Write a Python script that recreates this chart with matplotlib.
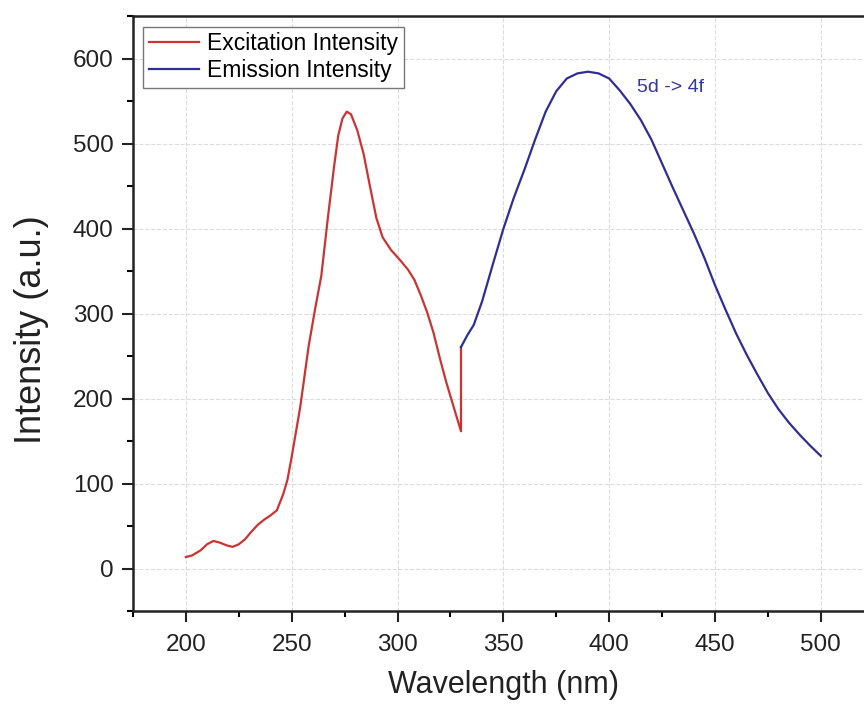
import matplotlib
matplotlib.use("Agg")
import matplotlib.pyplot as plt
from matplotlib.ticker import MultipleLocator

plt.rcParams['font.family'] = ['Liberation Sans', 'DejaVu Sans']

# Excitation spectrum (nm, a.u.)
exc_wl = [200, 203, 207, 210, 213, 216, 219, 222, 225, 228, 231, 234, 237, 240,
          243, 246, 248, 250, 254, 258, 261, 264, 267, 270, 272, 274, 276, 278,
          281, 284, 287, 290, 293, 297, 301, 305, 308, 311, 314, 317, 320, 323,
          326, 330, 330]
exc_int = [14, 16, 22, 29, 33, 31, 28, 26, 29, 35, 44, 52, 58, 63,
           69, 88, 105, 132, 190, 262, 305, 345, 411, 473, 510, 530, 538, 535,
           516, 488, 450, 413, 390, 375, 364, 352, 340, 322, 302, 278, 248, 220,
           195, 162, 261]

# Emission spectrum (nm, a.u.)
em_wl = [330, 333, 336, 340, 345, 350, 355, 360, 365, 370, 375, 380, 385, 390,
         395, 400, 405, 410, 415, 420, 425, 430, 435, 440, 445, 450, 455, 460,
         465, 470, 475, 480, 485, 490, 495, 500]
em_int = [261, 275, 287, 315, 358, 400, 437, 470, 505, 538, 562, 577, 583, 585,
          583, 577, 563, 547, 528, 505, 477, 449, 422, 395, 366, 334, 305, 277,
          252, 229, 207, 188, 172, 158, 145, 133]

x_ticks = [200, 250, 300, 350, 400, 450, 500]
y_ticks = [0, 100, 200, 300, 400, 500, 600]

fig = plt.figure(figsize=(8.64, 7.06), dpi=100)
ax = fig.add_axes([0.1539, 0.1339, 0.8573, 0.8428])

ax.plot(exc_wl, exc_int, color='#cc3333', lw=1.6, label='Excitation Intensity')
ax.plot(em_wl, em_int, color='#2e2e96', lw=1.6, label='Emission Intensity')

ax.text(429, 567, '5d -> 4f', color='#3535a5', fontsize=14,
        ha='center', va='center')

ax.set_xlim(175, 525)
ax.set_ylim(-50, 650)
ax.set_xticks(x_ticks)
ax.set_yticks(y_ticks)
ax.xaxis.set_minor_locator(MultipleLocator(25))
ax.yaxis.set_minor_locator(MultipleLocator(50))
ax.tick_params(axis='both', which='major', direction='out', length=8, width=1.5,
               labelsize=17.5, colors='#222222', pad=6)
ax.tick_params(axis='x', which='major', pad=8)
ax.tick_params(axis='both', which='minor', direction='out', length=4, width=1.5)
for s in ax.spines.values():
    s.set_linewidth(1.8)
    s.set_color('#222222')

ax.grid(True, which='major', linestyle='--', color='#dcdcdc', linewidth=0.8)
ax.set_axisbelow(True)

ax.set_xlabel('Wavelength (nm)', fontsize=22, color='#222222', labelpad=10)
ax.set_ylabel('Intensity (a.u.)', fontsize=26, color='#222222')
ax.yaxis.set_label_coords(-0.114, 0.473)

leg = ax.legend(loc='upper left', fontsize=16.5, frameon=True, fancybox=False,
                edgecolor='#777777', framealpha=1, handlelength=2.2,
                handletextpad=0.35, labelspacing=0.15, borderpad=0.25,
                borderaxespad=0.45)
leg.get_frame().set_linewidth(1.0)

fig.savefig('out.png', dpi=100)
